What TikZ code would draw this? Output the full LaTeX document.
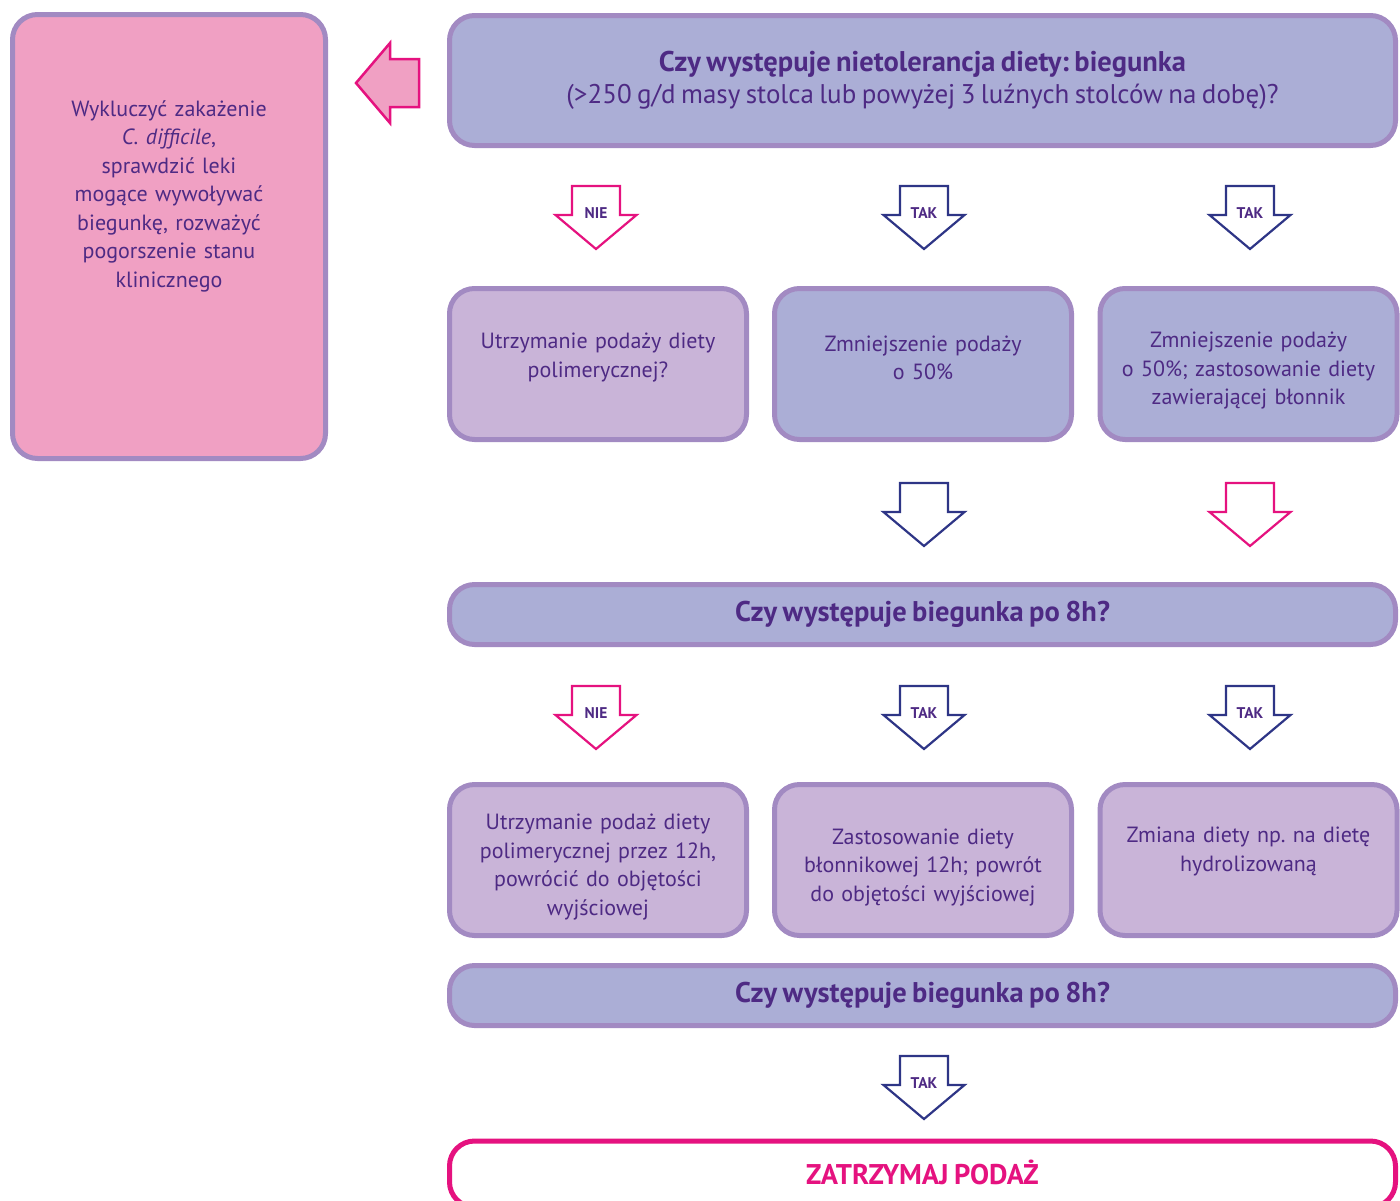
\documentclass[tikz,border=0pt]{standalone}
\usepackage{fontspec}
\setmainfont{PT Sans}[WordSpace=0.75]
\frenchspacing
\usetikzlibrary{positioning,calc}

\definecolor{txtviolet}{RGB}{78,42,132}
\definecolor{rim}{RGB}{162,138,194}
\definecolor{lavender}{RGB}{171,174,214}
\definecolor{lilac}{RGB}{201,180,216}
\definecolor{rosefill}{RGB}{240,160,195}
\definecolor{magentaline}{RGB}{229,18,127}
\definecolor{navyline}{RGB}{46,53,134}

\tikzset{
  boxtext/.style={text=txtviolet, align=center, font=\fontsize{22}{28.5}\selectfont},
  card/.style={boxtext, draw=rim, line width=5pt, rounded corners=25pt,
    minimum width=297pt, minimum height=151pt, text width=275pt, inner sep=0pt},
  bar/.style={draw=rim, fill=lavender, line width=5pt, rounded corners=25pt,
    minimum width=946pt, minimum height=60pt, inner sep=0pt, text=txtviolet,
    font=\fontsize{28.5}{32}\selectfont\bfseries},
  arrlbl/.style={text=txtviolet, font=\fontsize{15.5}{18}\selectfont\bfseries, inner sep=0pt},
  pics/blockdown/.style={code={
    \draw[pic actions, fill=white, line width=2.2pt, line join=miter]
      (-24,-31.5) -- (24,-31.5) -- (24,-2.5) -- (40.5,-2.5) -- (0,31.5)
      -- (-40.5,-2.5) -- (-24,-2.5) -- cycle;
  }}
}

\begin{document}
\begin{tikzpicture}[x=1pt, y=-1pt]
  \useasboundingbox (0,0) rectangle (1400,1200);

  % lewa ramka
  \node[card, fill=rosefill, minimum width=313pt, minimum height=444pt] (wyklucz) at (169,236.5) {};
  \node[boxtext, text width=280pt, inner sep=0pt] (wykluczTxt) at (169,196)
    {Wykluczyć zakażenie\\ \textit{C.~difficile},\\ sprawdzić leki\\ mogące wywoływać\\ biegunkę, rozważyć\\ pogorszenie stanu\\ klinicznego};
  % strzałka w lewo
  \draw[draw=magentaline, fill=rosefill, line width=2.5pt, line join=miter]
    (356,83) -- (390,43) -- (390,59) -- (419,59) -- (419,107) -- (390,107) -- (390,123) -- cycle;

  % pytanie 1
  \node[bar, minimum height=130pt, align=center] (pyt1) at (922.5,80.5)
    {\fontsize{28.5}{35}\selectfont\bfseries Czy występuje nietolerancja diety: biegunka\\
     \fontsize{27}{35}\selectfont\mdseries (>250 g/d masy stolca lub powyżej 3 luźnych stolców na dobę)?};

  % strzałki NIE / TAK
  \pic[draw=magentaline] (s1) at (596,217.5) {blockdown};
  \node[arrlbl] (s1lbl) at (596,213) {NIE};
  \pic[draw=navyline] (s2) at (924,217.5) {blockdown};
  \node[arrlbl] (s2lbl) at (924,213) {TAK};
  \pic[draw=navyline] (s3) at (1250,217.5) {blockdown};
  \node[arrlbl] (s3lbl) at (1250,213) {TAK};

  % pierwszy rząd
  \node[card, fill=lilac] (utrz1) at (598,364) {Utrzymanie podaży diety\\ polimerycznej?\\[-11pt]\mbox{}};
  \node[card, fill=lavender] (zmn1) at (923,364) {Zmniejszenie podaży\\ o 50\%\\[-15.5pt]\mbox{}};
  \node[card, fill=lavender] (zmn2) at (1248.5,364) {\rule{0pt}{29pt}Zmniejszenie podaży\\ o 50\%; zastosowanie diety\\ zawierającej błonnik};

  % strzałki bez etykiet
  \pic[draw=navyline] (s4) at (924,514.5) {blockdown};
  \pic[draw=magentaline] (s5) at (1250,514.5) {blockdown};

  % pytanie 2
  \node[bar] (pyt2) at (922.5,614.5) {Czy występuje biegunka po 8h?};

  % strzałki NIE / TAK
  \pic[draw=magentaline] (s6) at (596,717.5) {blockdown};
  \node[arrlbl] (s6lbl) at (596,713) {NIE};
  \pic[draw=navyline] (s7) at (924,717.5) {blockdown};
  \node[arrlbl] (s7lbl) at (924,713) {TAK};
  \pic[draw=navyline] (s8) at (1250,717.5) {blockdown};
  \node[arrlbl] (s8lbl) at (1250,713) {TAK};

  % drugi rząd
  \node[card, fill=lilac] (utrz2) at (598,860) {\rule{0pt}{30pt}Utrzymanie podaż diety\\ polimerycznej przez 12h,\\ powrócić do objętości\\ wyjściowej};
  \node[card, fill=lilac] (blon) at (923,860) {\rule{0pt}{30pt}Zastosowanie diety\\ błonnikowej 12h; powrót\\ do objętości wyjściowej};
  \node[card, fill=lilac] (zmiana) at (1248.5,860) {Zmiana diety np. na dietę\\ hydrolizowaną\\[-6.5pt]\mbox{}};

  % pytanie 3
  \node[bar] (pyt3) at (922.5,995.5) {Czy występuje biegunka po 8h?};

  \pic[draw=navyline] (s9) at (924,1087.5) {blockdown};
  \node[arrlbl] (s9lbl) at (924,1083) {TAK};

  % stop
  \node[bar, draw=magentaline, fill=white, minimum height=66pt, text=magentaline] (stop) at (922.5,1174)
    {\raisebox{4pt}{ZATRZYMAJ PODAŻ}};
\end{tikzpicture}
\end{document}
